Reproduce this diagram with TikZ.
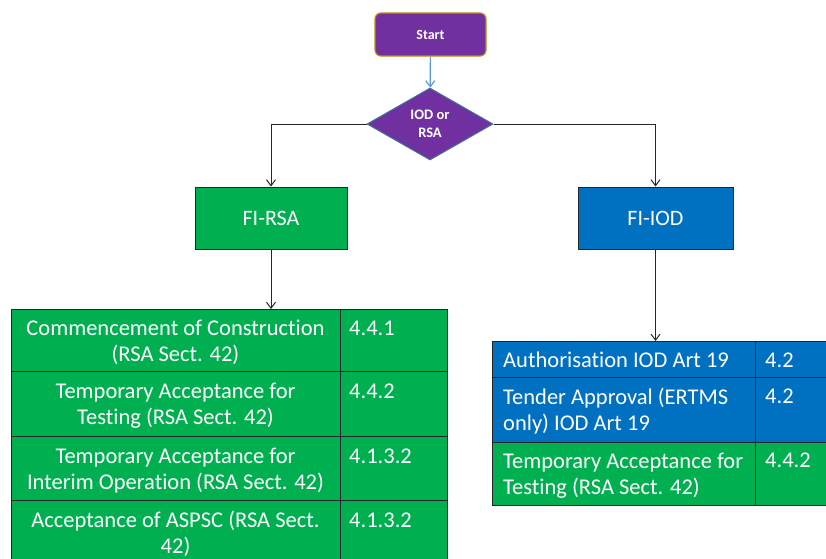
\documentclass[tikz,border=0pt]{standalone}
\usepackage{fontspec}
\setmainfont{Carlito}[Ligatures=NoCommon]
\usetikzlibrary{shapes.geometric,arrows.meta}
\definecolor{pgreen}{HTML}{00B050}
\definecolor{pblue}{HTML}{0070C0}
\definecolor{ppurple}{HTML}{7030A0}
\definecolor{pgold}{HTML}{BF9000}
\definecolor{pline}{HTML}{41719C}
\definecolor{parrow}{HTML}{5B9BD5}
\definecolor{pdark}{HTML}{262626}
\begin{document}
\begin{tikzpicture}[x=1pt,y=-1pt,
  startbox/.style={draw=pgold,line width=1.2pt,fill=ppurple,rounded corners=6pt,text=white,font=\fontsize{14}{17}\selectfont\bfseries,inner sep=0pt},
  decision/.style={diamond,draw=pline,line width=1pt,fill=ppurple,text=white,align=center,inner sep=0pt,font=\fontsize{14.5}{17.5}\selectfont\bfseries},
  fibox/.style={draw=pdark,line width=1pt,text=white,inner sep=0pt,font=\fontsize{22}{26}\selectfont},
  cell/.style={draw=pdark,line width=1pt,inner sep=0pt,anchor=north west},
  ctext/.style={text=white,inner sep=0pt,font=\fontsize{22.5}{26}\selectfont},
  conn/.style={draw=pdark,line width=1pt,-{Straight Barb[length=6pt,width=9pt]}},
  bconn/.style={draw=parrow,line width=1.2pt,-{Straight Barb[length=6pt,width=9pt]}}]
\useasboundingbox (0,0) rectangle (826,558);
\clip (0,0) rectangle (826,558);
% top
\node[startbox,minimum width=111pt,minimum height=43pt] (start) at (430.5,34.5) {Start};
\node[decision,minimum width=126pt,minimum height=72pt] (dec) at (430,124) {IOD or\\RSA};
\node[fibox,fill=pgreen,minimum width=152pt,minimum height=62pt] (rsa) at (271,218) {FI-RSA};
\node[fibox,fill=pblue,minimum width=155pt,minimum height=62pt] (iod) at (655.5,218) {FI-IOD};
% left table
\node[cell,fill=pgreen,minimum width=329pt,minimum height=62pt] (l1a) at (11,309) {};
\node[cell,fill=pgreen,minimum width=107pt,minimum height=62pt] (l1b) at (340,309) {};
\node[cell,fill=pgreen,minimum width=329pt,minimum height=65pt] (l2a) at (11,371) {};
\node[cell,fill=pgreen,minimum width=107pt,minimum height=65pt] (l2b) at (340,371) {};
\node[cell,fill=pgreen,minimum width=329pt,minimum height=64pt] (l3a) at (11,436) {};
\node[cell,fill=pgreen,minimum width=107pt,minimum height=64pt] (l3b) at (340,436) {};
\node[cell,fill=pgreen,minimum width=329pt,minimum height=70pt] (l4a) at (11,500) {};
\node[cell,fill=pgreen,minimum width=107pt,minimum height=70pt] (l4b) at (340,500) {};
% right table
\node[cell,fill=pblue,minimum width=263pt,minimum height=36pt] (r1a) at (492,341) {};
\node[cell,fill=pblue,minimum width=80pt,minimum height=36pt] (r1b) at (755,341) {};
\node[cell,fill=pblue,minimum width=263pt,minimum height=65pt] (r2a) at (492,377) {};
\node[cell,fill=pblue,minimum width=80pt,minimum height=65pt] (r2b) at (755,377) {};
\node[cell,fill=pgreen,minimum width=263pt,minimum height=63pt] (r3a) at (492,442) {};
\node[cell,fill=pgreen,minimum width=80pt,minimum height=63pt] (r3b) at (755,442) {};
% left texts (base = last line)
\node[ctext,align=center,anchor=base] (t1a) at (175.5,361) {Commencement of Construction\\(RSA Sect. 42)};
\node[ctext,anchor=base west] (t1b) at (349,335) {4.4.1};
\node[ctext,align=center,anchor=base] (t2a) at (175.5,424) {Temporary Acceptance for\\Testing (RSA Sect. 42)};
\node[ctext,anchor=base west] (t2b) at (349,398) {4.4.2};
\node[ctext,align=center,anchor=base] (t3a) at (175.5,489) {Temporary Acceptance for\\Interim Operation (RSA Sect. 42)};
\node[ctext,anchor=base west] (t3b) at (349,463) {4.1.3.2};
\node[ctext,align=center,anchor=base] (t4a) at (175.5,553) {Acceptance of ASPSC (RSA Sect.\\42)};
\node[ctext,anchor=base west] (t4b) at (349,527) {4.1.3.2};
% right texts
\node[ctext,anchor=base west] (u1a) at (503,367) {Authorisation IOD Art 19};
\node[ctext,anchor=base west] (u1b) at (765,367) {4.2};
\node[ctext,align=left,anchor=base west] (u2a) at (503,430) {Tender Approval (ERTMS\\only) IOD Art 19};
\node[ctext,anchor=base west] (u2b) at (765,403) {4.2};
\node[ctext,align=left,anchor=base west] (u3a) at (503,494) {Temporary Acceptance for\\Testing (RSA Sect. 42)};
\node[ctext,anchor=base west] (u3b) at (765,467) {4.4.2};
% connectors
\draw[bconn] (start) -- (dec);
\draw[conn] (dec.west) -| (rsa.north);
\draw[conn] (dec.east) -| (iod.north);
\draw[conn] (rsa.south) -- (rsa.south |- l1a.north);
\draw[conn] (iod.south) -- (iod.south |- r1a.north);
\end{tikzpicture}
\end{document}
